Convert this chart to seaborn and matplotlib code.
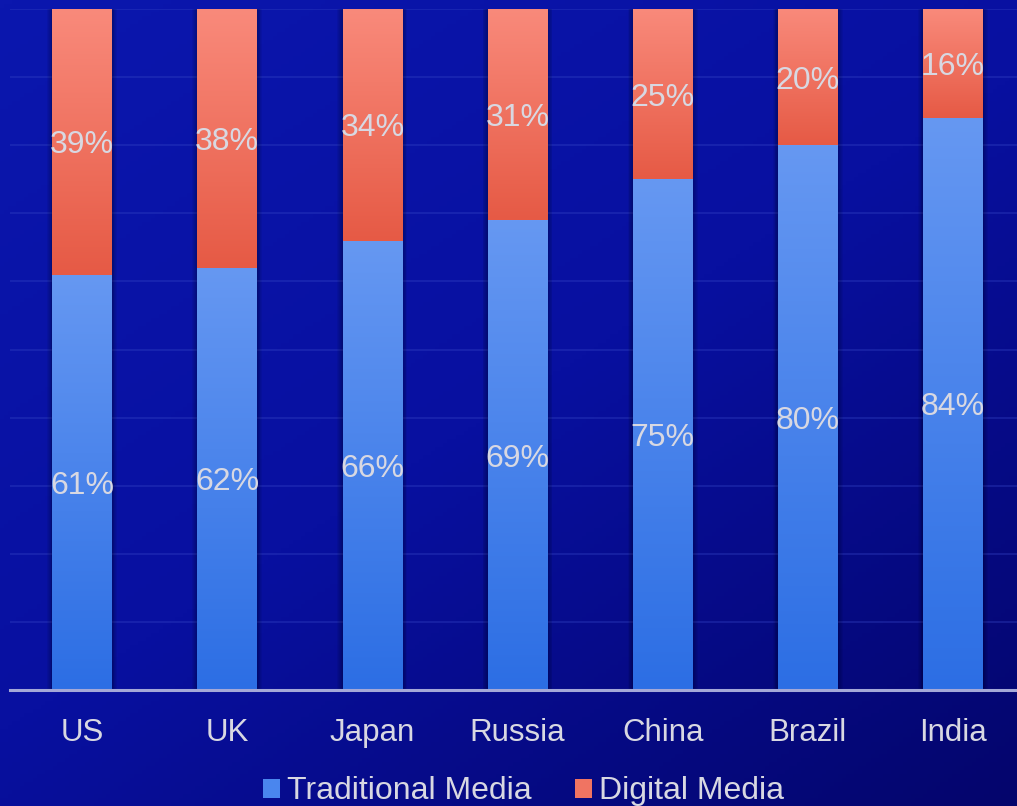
import numpy as np
import pandas as pd
import matplotlib
matplotlib.use("Agg")
import matplotlib.pyplot as plt
import seaborn as sns
from matplotlib.colors import LinearSegmentedColormap
from matplotlib.patches import Rectangle

countries = ["US", "UK", "Japan", "Russia", "China", "Brazil", "India"]
traditional = [61, 62, 66, 69, 75, 80, 84]
digital = [39, 38, 34, 31, 25, 20, 16]
series_names = ["Traditional Media", "Digital Media"]

sns.set_theme(style="white")
plt.rcParams['font.family'] = ['Liberation Sans', 'DejaVu Sans']

TXT = '#D8D8E2'
BLUE = '#4A86EE'
RED = '#F07462'
blue_grad = LinearSegmentedColormap.from_list('bg', ['#2C6EE4', '#6698F2'])
red_grad = LinearSegmentedColormap.from_list('rg', ['#E65A45', '#F98A7B'])

W, H = 1017, 806
fig = plt.figure(figsize=(W / 100, H / 100), dpi=100)

# background gradient
bgax = fig.add_axes([0, 0, 1, 1], zorder=0)
yy, xx = np.mgrid[0:1:200j, 0:1:250j]
t = 0.45 * xx + 0.55 * yy
bg_cmap = LinearSegmentedColormap.from_list('bgc', ['#0B17AE', '#0810A0', '#04056C'])
bgax.imshow(t, cmap=bg_cmap, aspect='auto', extent=[0, 1, 0, 1], origin='upper')
bgax.axis('off')

ax = fig.add_axes([9.5 / W, (H - 690) / H, 1016 / W, 681 / H], zorder=1)
ax.patch.set_alpha(0)

df = pd.DataFrame({
    'country': countries,
    'traditional': traditional,
    'total': [a + b for a, b in zip(traditional, digital)],
})

sns.barplot(data=df, x='country', y='total', color=RED, width=0.41,
            saturation=1, ax=ax, zorder=2, linewidth=0, edgecolor='none')
sns.barplot(data=df, x='country', y='traditional', color=BLUE, width=0.41,
            saturation=1, ax=ax, zorder=2, linewidth=0, edgecolor='none')
n = len(countries)
red_patches = ax.patches[:n]
blue_patches = ax.patches[n:2 * n]

grad = np.linspace(0, 1, 256).reshape(-1, 1)
for rp, bp, tv, dv in zip(red_patches, blue_patches, traditional, digital):
    x0 = bp.get_x()
    w = bp.get_width()
    ytop_b = bp.get_height()
    ytop_r = rp.get_height()
    # soft shadow
    for k in range(1, 7):
        dx = k * 0.006
        ax.add_patch(Rectangle((x0 - dx, 0), w + 2 * dx, ytop_r + k * 0.15,
                               facecolor='black', edgecolor='none', alpha=0.05, zorder=1.5))
    im = ax.imshow(grad, cmap=blue_grad, aspect='auto', origin='lower',
                   extent=[x0, x0 + w, 0, ytop_b], zorder=2.5)
    im.set_clip_path(bp)
    im2 = ax.imshow(grad, cmap=red_grad, aspect='auto', origin='lower',
                    extent=[x0, x0 + w, ytop_b, ytop_r], zorder=2.5)
    im2.set_clip_path(rp)
    xc = x0 + w / 2
    ax.text(xc, ytop_b / 2, f"{tv}%", ha='center', va='center_baseline', fontsize=23,
            color=TXT, zorder=4)
    ax.text(xc, (ytop_b + ytop_r) / 2, f"{dv}%", ha='center', va='center_baseline',
            fontsize=23, color=TXT, zorder=4)

ax.set_xlim(-0.5, n - 0.5)
ax.set_ylim(0, 100)
ax.set_yticks(np.arange(0, 101, 10))
ax.set_axisbelow(True)
ax.yaxis.grid(True, color='#3444C4', alpha=0.45, linewidth=1.1)
ax.xaxis.grid(False)
ax.tick_params(axis='y', length=0, labelleft=False)
ax.tick_params(axis='x', length=0, pad=20, labelsize=22.5, labelcolor=TXT)
ax.set_xlabel('')
ax.set_ylabel('')
for s in ['top', 'right', 'left']:
    ax.spines[s].set_visible(False)
ax.spines['bottom'].set_color('#A4A8D8')
ax.spines['bottom'].set_linewidth(2.2)
ax.spines['bottom'].set_zorder(3)

handles = [Rectangle((0, 0), 1, 1, facecolor=BLUE, edgecolor='none', linewidth=0),
           Rectangle((0, 0), 1, 1, facecolor=RED, edgecolor='none', linewidth=0)]
fig.legend(handles, series_names, loc='center', bbox_to_anchor=(0.515, 0.018), ncol=2,
           frameon=False, fontsize=23, labelcolor=TXT, handlelength=0.53,
           handleheight=0.53, handletextpad=0.22, columnspacing=1.35)

fig.savefig('out.png', dpi=100)
